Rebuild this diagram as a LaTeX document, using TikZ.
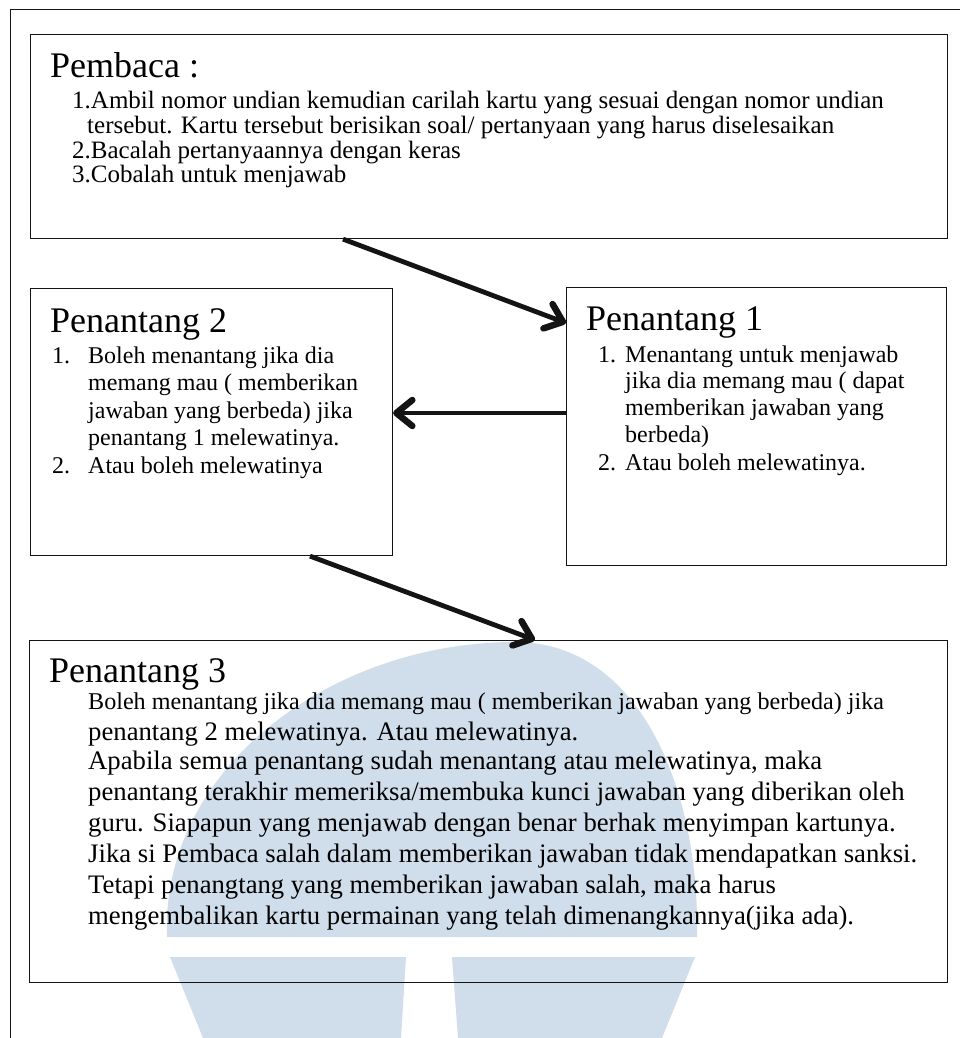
\documentclass[tikz,border=0pt]{standalone}
\usepackage{fontspec}
\setmainfont{Liberation Serif}
\usetikzlibrary{arrows.meta,calc}
\definecolor{wm}{RGB}{208,221,235}
\definecolor{ink}{RGB}{20,20,20}
\tikzset{
  box/.style={draw=ink, line width=1.1pt, inner sep=0pt, anchor=north west},
  ttl/.style={anchor=base west, inner sep=0pt, font=\fontsize{36}{40}\selectfont},
  txt/.style={anchor=base west, inner sep=0pt, font=\fontsize{24}{26}\selectfont},
  pbtxt/.style={anchor=base west, inner sep=0pt, font=\fontsize{25}{26}\selectfont},
  bigtxt/.style={anchor=base west, inner sep=0pt, font=\fontsize{26.7}{30}\selectfont},
  arr/.style={draw=ink, line width=4.8pt, -{Straight Barb[length=16pt,width=26pt,line width=0pt 1.35,round]}}
}
\begin{document}
\begin{tikzpicture}[x=1pt,y=-1pt]
\useasboundingbox (0,0) rectangle (960,1038);
% watermark
\fill[wm] (167,937) .. controls (160,770) and (330,642) .. (515,642)
          .. controls (640,642) and (700,790) .. (697,937) -- cycle;
\fill[wm] (170,957) -- (406,957) -- (401,1038) -- (203,1038) -- cycle;
\fill[wm] (452,957) -- (695,957) -- (662,1038) -- (458,1038) -- cycle;
% outer frame
\draw[ink, line width=0.8pt] (960,9) -- (10,9) -- (10,1038);
% boxes
\node[box, minimum width=917pt, minimum height=204pt] (pemb) at (30,34) {};
\node[box, minimum width=362pt, minimum height=267pt] (pen2) at (30,288) {};
\node[box, minimum width=380pt, minimum height=278pt] (pen1) at (566,287) {};
\node[box, minimum width=918pt, minimum height=342pt] (pen3) at (29,640) {};
% Pembaca
\node[ttl] (pembT) at (50,78) {Pembaca :};
\node[pbtxt] (pembA) at (72,109) {1.Ambil nomor undian kemudian carilah kartu yang sesuai dengan nomor undian};
\node[pbtxt] (pembB) at (87,134) {tersebut. Kartu tersebut berisikan soal/ pertanyaan yang harus diselesaikan};
\node[pbtxt] (pembC) at (72,158) {2.Bacalah pertanyaannya dengan keras};
\node[pbtxt] (pembD) at (72,182) {3.Cobalah untuk menjawab};
% Penantang 2
\node[ttl] (pen2T) at (50,332) {Penantang 2};
\node[txt] (pen2n1) at (52,363) {1.};
\node[txt] (pen2a) at (88,363) {Boleh menantang jika dia};
\node[txt] (pen2b) at (88,390) {memang mau ( memberikan};
\node[txt] (pen2c) at (88,418) {jawaban yang berbeda) jika};
\node[txt] (pen2d) at (88,445) {penantang 1 melewatinya.};
\node[txt] (pen2n2) at (52,473) {2.};
\node[txt] (pen2e) at (88,473) {Atau boleh melewatinya};
% Penantang 1
\node[ttl] (pen1T) at (586,330) {Penantang 1};
\node[txt] (pen1n1) at (598,362) {1.};
\node[txt] (pen1a) at (625,362) {Menantang untuk menjawab};
\node[txt] (pen1b) at (625,388) {jika dia memang mau ( dapat};
\node[txt] (pen1c) at (625,415) {memberikan jawaban yang};
\node[txt] (pen1d) at (625,442) {berbeda)};
\node[txt] (pen1n2) at (598,470) {2.};
\node[txt] (pen1e) at (625,470) {Atau boleh melewatinya.};
% Penantang 3
\node[ttl] (pen3T) at (49,682) {Penantang 3};
\node[txt, font=\fontsize{24.1}{26}\selectfont] (pen3a) at (88,709) {Boleh menantang jika dia memang mau ( memberikan jawaban yang berbeda) jika};
\node[bigtxt] (pen3b) at (88,740) {penantang 2 melewatinya. Atau melewatinya.};
\node[bigtxt] (pen3c) at (88,769) {Apabila semua penantang sudah menantang atau melewatinya, maka};
\node[bigtxt] (pen3d) at (88,800) {penantang terakhir memeriksa/membuka kunci jawaban yang diberikan oleh};
\node[bigtxt] (pen3e) at (88,831) {guru. Siapapun yang menjawab dengan benar berhak menyimpan kartunya.};
\node[bigtxt] (pen3f) at (88,862) {Jika si Pembaca salah dalam memberikan jawaban tidak mendapatkan sanksi.};
\node[bigtxt] (pen3g) at (88,893) {Tetapi penangtang yang memberikan jawaban salah, maka harus};
\node[bigtxt] (pen3h) at (88,924) {mengembalikan kartu permainan yang telah dimenangkannya(jika ada).};
% connectors
\draw[arr] ([xshift=313pt]pemb.south west) -- ([yshift=-36pt]pen1.north west);
\draw[arr] ([yshift=-126pt]pen1.north west) -- ([yshift=-125pt]pen2.north east);
\draw[arr] ([xshift=280pt]pen2.south west) -- ([xshift=506pt]pen3.north west);
\end{tikzpicture}
\end{document}
